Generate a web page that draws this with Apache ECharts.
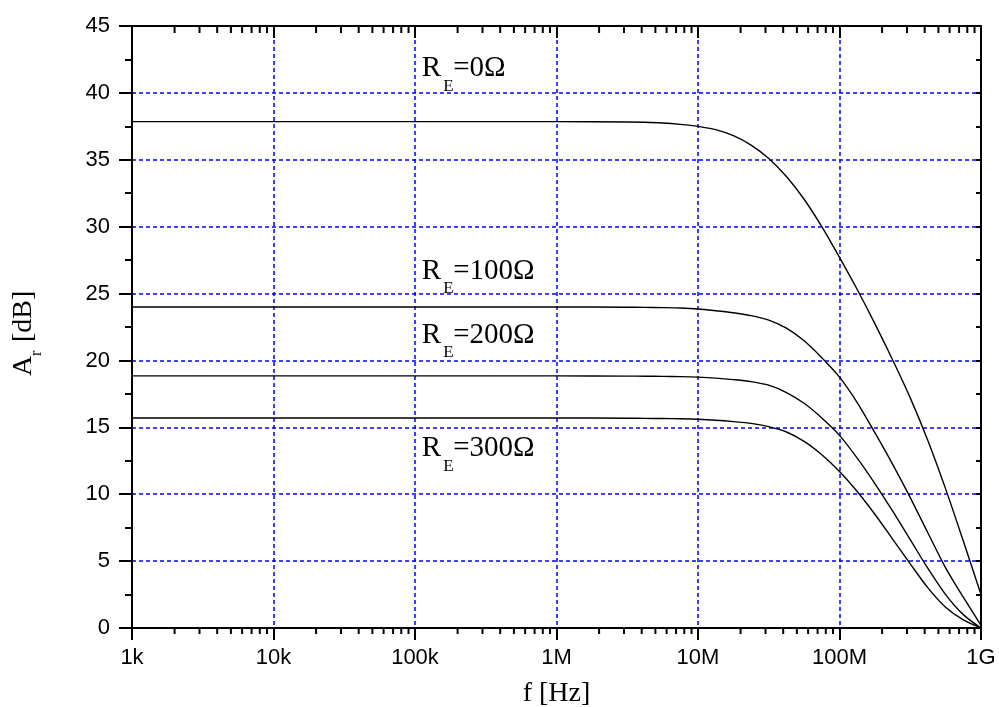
<!DOCTYPE html>
<html>
<head>
<meta charset="utf-8">
<script src="https://cdn.jsdelivr.net/npm/echarts@6/dist/echarts.min.js"></script>
<style>
  html, body { margin: 0; padding: 0; background: #fff; }
  #chart { width: 999px; height: 707px; }
</style>
</head>
<body>
<div id="chart"></div>
<script>
const freqs = [1e3, 1e4, 1e5, 1e6,
  3.162e6, 4.217e6, 5.623e6, 7.499e6,
  1e7, 1.334e7, 1.778e7, 2.371e7, 3.162e7, 4.217e7, 5.623e7, 7.499e7,
  1e8, 1.334e8, 1.778e8, 2.371e8, 3.162e8, 4.217e8, 5.623e8, 7.499e8,
  1e9];

// gain in dB for each emitter resistance
const gainRE0   = [37.85, 37.85, 37.85, 37.85,
  37.82, 37.8, 37.75, 37.65,
  37.5, 37.25, 36.8, 36.1, 35.1, 33.75, 32.05, 30.0,
  27.7, 25.3, 22.75, 20.05, 17.2, 14.0, 10.4, 6.5,
  2.5];
const gainRE100 = [24.0, 24.0, 24.0, 24.0,
  23.98, 23.97, 23.95, 23.92,
  23.85, 23.72, 23.57, 23.35, 23.02, 22.42, 21.47, 20.2,
  18.75, 16.85, 14.6, 12.25, 9.75, 7.1, 4.5, 2.3,
  0.2];
const gainRE200 = [18.85, 18.85, 18.85, 18.85,
  18.83, 18.82, 18.81, 18.79,
  18.75, 18.68, 18.57, 18.42, 18.15, 17.6, 16.8, 15.7,
  14.4, 12.7, 10.8, 8.75, 6.6, 4.45, 2.5, 1.0,
  0];
const gainRE300 = [15.7, 15.7, 15.7, 15.7,
  15.68, 15.67, 15.66, 15.64,
  15.6, 15.53, 15.43, 15.3, 15.05, 14.65, 13.95, 12.95,
  11.7, 10.2, 8.5, 6.65, 4.8, 3.0, 1.55, 0.6,
  0];

const xTickLabels = ['1k', '10k', '100k', '1M', '10M', '100M', '1G'];
const seriesNames = ['0', '100', '200', '300'];

// minor ticks of the log axis: 2..9 in every decade
const minorX = [];
for (let d = 3; d < 9; d++) {
  for (let m = 2; m <= 9; m++) minorX.push(m * Math.pow(10, d));
}

const pairs = (ys) => freqs.map((f, i) => [f, ys[i]]);

const serif = 'Liberation Serif, Times New Roman, serif';
const sans = 'Liberation Sans, Arial, sans-serif';
const blueDots = { color: '#0000ff', width: 1.5, type: [4, 3] };

// R_E=...Ω label, x/y = left edge and middle of the capital R
function reLabel(x, y, val) {
  return {
    type: 'group', x: x, y: y,
    children: [
      { type: 'text', x: 0, y: 0, style: { text: 'R', fontSize: 29, fontFamily: serif, fill: '#000', align: 'left', verticalAlign: 'middle' } },
      { type: 'text', x: 21.5, y: 17.5, style: { text: 'E', fontSize: 17, fontFamily: serif, fill: '#000', align: 'left', verticalAlign: 'middle' } },
      { type: 'text', x: 31.5, y: 0, style: { text: '=' + val + 'Ω', fontSize: 29, fontFamily: serif, fill: '#000', align: 'left', verticalAlign: 'middle' } }
    ]
  };
}

const chart = echarts.init(document.getElementById('chart'));

const lineSeries = [gainRE0, gainRE100, gainRE200, gainRE300].map((g, i) => ({
  name: 'RE=' + seriesNames[i],
  type: 'line',
  data: pairs(g),
  showSymbol: false,
  smooth: 0.3,
  lineStyle: { color: '#000', width: 1.4 },
  z: 5
}));

const option = {
  animation: false,
  backgroundColor: '#fff',
  grid: { left: 132, right: 18, top: 26, bottom: 79 },
  xAxis: [
    {
      type: 'log', logBase: 10, min: 1e3, max: 1e9, splitNumber: 6,
      position: 'bottom',
      axisLine: { onZero: false, lineStyle: { color: '#000', width: 2 } },
      axisTick: { inside: false, length: 12, lineStyle: { color: '#000', width: 2 } },
      axisLabel: {
        margin: 19, fontSize: 22, fontFamily: sans, color: '#000',
        formatter: (v) => xTickLabels[Math.round(Math.log10(v)) - 3]
      },
      splitLine: { show: true, lineStyle: blueDots }
    },
    {
      type: 'log', logBase: 10, min: 1e3, max: 1e9, splitNumber: 6,
      position: 'top',
      axisLine: { onZero: false, lineStyle: { color: '#000', width: 2 } },
      axisTick: { inside: true, length: 12, lineStyle: { color: '#000', width: 2 } },
      axisLabel: { show: false },
      splitLine: { show: false }
    }
  ],
  yAxis: [
    {
      type: 'value', min: 0, max: 45, interval: 5,
      position: 'left',
      axisLine: { show: true, onZero: false, lineStyle: { color: '#000', width: 2 } },
      axisTick: { show: true, inside: false, length: 13, lineStyle: { color: '#000', width: 2 } },
      minorTick: { show: true, splitNumber: 2, length: 7, lineStyle: { color: '#000', width: 2 } },
      axisLabel: { margin: 22, fontSize: 22, fontFamily: sans, color: '#000' },
      splitLine: { show: true, lineStyle: blueDots }
    },
    {
      type: 'value', min: 0, max: 45, interval: 5,
      position: 'right',
      axisLine: { show: true, onZero: false, lineStyle: { color: '#000', width: 2 } },
      axisTick: { show: true, inside: true, length: 5, lineStyle: { color: '#000', width: 2 } },
      minorTick: { show: true, splitNumber: 2, length: 5, lineStyle: { color: '#000', width: 2 } },
      axisLabel: { show: false },
      splitLine: { show: false }
    }
  ],
  series: lineSeries.concat([
    {
      // minor ticks on bottom (outward) and top (inward) log axes
      type: 'custom',
      silent: true,
      clip: false,
      xAxisIndex: 0, yAxisIndex: 0,
      data: minorX.map(f => [f, 0]),
      renderItem: function (params, api) {
        const b = api.coord([api.value(0), 0]);
        const t = api.coord([api.value(0), 45]);
        const st = { stroke: '#000', lineWidth: 2 };
        return {
          type: 'group',
          children: [
            { type: 'line', shape: { x1: b[0], y1: b[1], x2: b[0], y2: b[1] + 6 }, style: st },
            { type: 'line', shape: { x1: t[0], y1: t[1], x2: t[0], y2: t[1] + 7 }, style: st }
          ]
        };
      },
      z: 6
    }
  ]),
  graphic: [
    reLabel(421.7, 68.8, '0'),
    reLabel(421.7, 271.3, '100'),
    reLabel(421.7, 335.3, '200'),
    reLabel(421.7, 448.8, '300'),
    {
      type: 'text', x: 556.5, y: 694,
      style: { text: 'f [Hz]', fontSize: 28, fontFamily: serif, fill: '#000', align: 'center', verticalAlign: 'middle' }
    },
    {
      type: 'group', x: 24, y: 376, rotation: Math.PI / 2,
      children: [
        { type: 'text', x: 0, y: 0, style: { text: 'A', fontSize: 28, fontFamily: serif, fill: '#000', align: 'left', verticalAlign: 'middle' } },
        { type: 'text', x: 20, y: 13, style: { text: 'r', fontSize: 16, fontFamily: serif, fill: '#000', align: 'left', verticalAlign: 'middle' } },
        { type: 'text', x: 34, y: 0, style: { text: '[dB]', fontSize: 28, fontFamily: serif, fill: '#000', align: 'left', verticalAlign: 'middle' } }
      ]
    }
  ]
};

chart.setOption(option);
</script>
</body>
</html>
